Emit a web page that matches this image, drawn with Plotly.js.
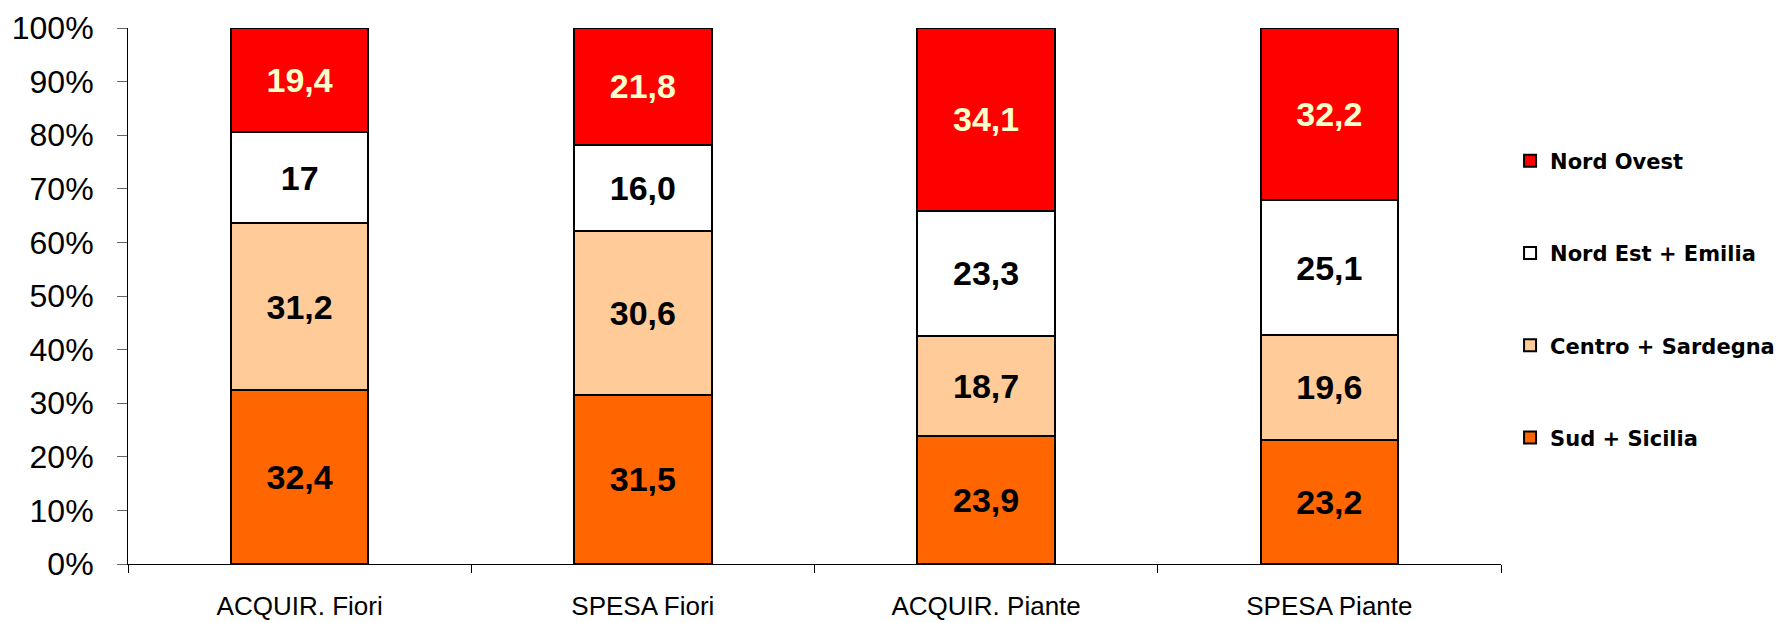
<!DOCTYPE html>
<html>
<head>
<meta charset="utf-8">
<script src="https://cdn.plot.ly/plotly-3.0.1.min.js"></script>
<style>
  html, body { margin: 0; padding: 0; background: #fff; }
  #chart { width: 1781px; height: 623px; }
</style>
</head>
<body>
<div id="chart"></div>
<script>
const categories = ["ACQUIR. Fiori", "SPESA Fiori", "ACQUIR. Piante", "SPESA Piante"];

const sudSicilia      = [32.4, 31.5, 23.9, 23.2];
const centroSardegna  = [31.2, 30.6, 18.7, 19.6];
const nordEstEmilia   = [17.0, 16.0, 23.3, 25.1];
const nordOvest       = [19.4, 21.8, 34.1, 32.2];

const sudLabels     = ["32,4", "31,5", "23,9", "23,2"];
const centroLabels  = ["31,2", "30,6", "18,7", "19,6"];
const nordEstLabels = ["17", "16,0", "23,3", "25,1"];
const nordOvLabels  = ["19,4", "21,8", "34,1", "32,2"];

const yTickVals   = [0, 10, 20, 30, 40, 50, 60, 70, 80, 90, 100];
const yTickLabels = ["0%", "10%", "20%", "30%", "40%", "50%", "60%", "70%", "80%", "90%", "100%"];

const seriesNames = ["Sud + Sicilia", "Centro + Sardegna", "Nord Est + Emilia", "Nord Ovest"];
const seriesValues = [sudSicilia, centroSardegna, nordEstEmilia, nordOvest];
const seriesLabels = [sudLabels, centroLabels, nordEstLabels, nordOvLabels];
const seriesColors = ["#FF6600", "#FFCC99", "#FFFFFF", "#FF0000"];
const labelColors  = ["#000000", "#000000", "#000000", "#FFFFCC"];

const traces = seriesNames.map((name, i) => ({
  type: "bar",
  name: name,
  legendgroup: "g" + i,
  legendrank: 100 - i,
  x: categories,
  y: seriesValues[i],
  text: seriesLabels[i],
  texttemplate: "%{text}",
  textposition: "inside",
  insidetextanchor: "middle",
  textangle: 0,
  constraintext: "none",
  textfont: { family: "Liberation Sans, Arial, sans-serif", size: 34, weight: "bold", color: labelColors[i] },
  marker: { color: seriesColors[i], line: { color: "#000000", width: 2 } },
  hoverinfo: "skip"
}));

const layout = {
  width: 1781,
  height: 623,
  margin: { l: 128, r: 280, t: 28, b: 59, pad: 0, autoexpand: false },
  paper_bgcolor: "#ffffff",
  plot_bgcolor: "#ffffff",
  barmode: "stack",
  barnorm: "percent",
  bargap: 0.6,
  showlegend: true,
  font: { family: "Liberation Sans, Arial, sans-serif", color: "#000000" },
  xaxis: {
    type: "category",
    showgrid: false,
    zeroline: false,
    showline: true,
    linecolor: "#000000",
    linewidth: 1,
    ticks: "outside",
    tickson: "boundaries",
    ticklen: 8,
    tickcolor: "#000000",
    tickwidth: 1,
    tickfont: { family: "Liberation Sans, Arial, sans-serif", size: 26, color: "#000000" },
    ticklabelstandoff: 19,
    fixedrange: true,
    automargin: false
  },
  yaxis: {
    range: [0, 100],
    tickmode: "array",
    tickvals: yTickVals,
    ticktext: yTickLabels,
    showgrid: false,
    zeroline: false,
    showline: true,
    linecolor: "#000000",
    linewidth: 1,
    ticks: "outside",
    ticklen: 10,
    tickcolor: "#666666",
    tickwidth: 1,
    tickfont: { family: "Liberation Sans, Arial, sans-serif", size: 32, color: "#000000" },
    ticklabelstandoff: 17,
    fixedrange: true,
    automargin: false
  },
  legend: {
    x: 1.0066,
    xanchor: "left",
    y: 0.79,
    yanchor: "top",
    traceorder: "grouped",
    tracegroupgap: 62,
    valign: "middle",
    font: { family: "DejaVu Sans, Verdana, sans-serif", size: 21, weight: "bold", color: "#000000" },
    bgcolor: "rgba(0,0,0,0)",
    borderwidth: 0
  }
};

Plotly.newPlot("chart", traces, layout, { displayModeBar: false, staticPlot: true });
</script>
</body>
</html>
